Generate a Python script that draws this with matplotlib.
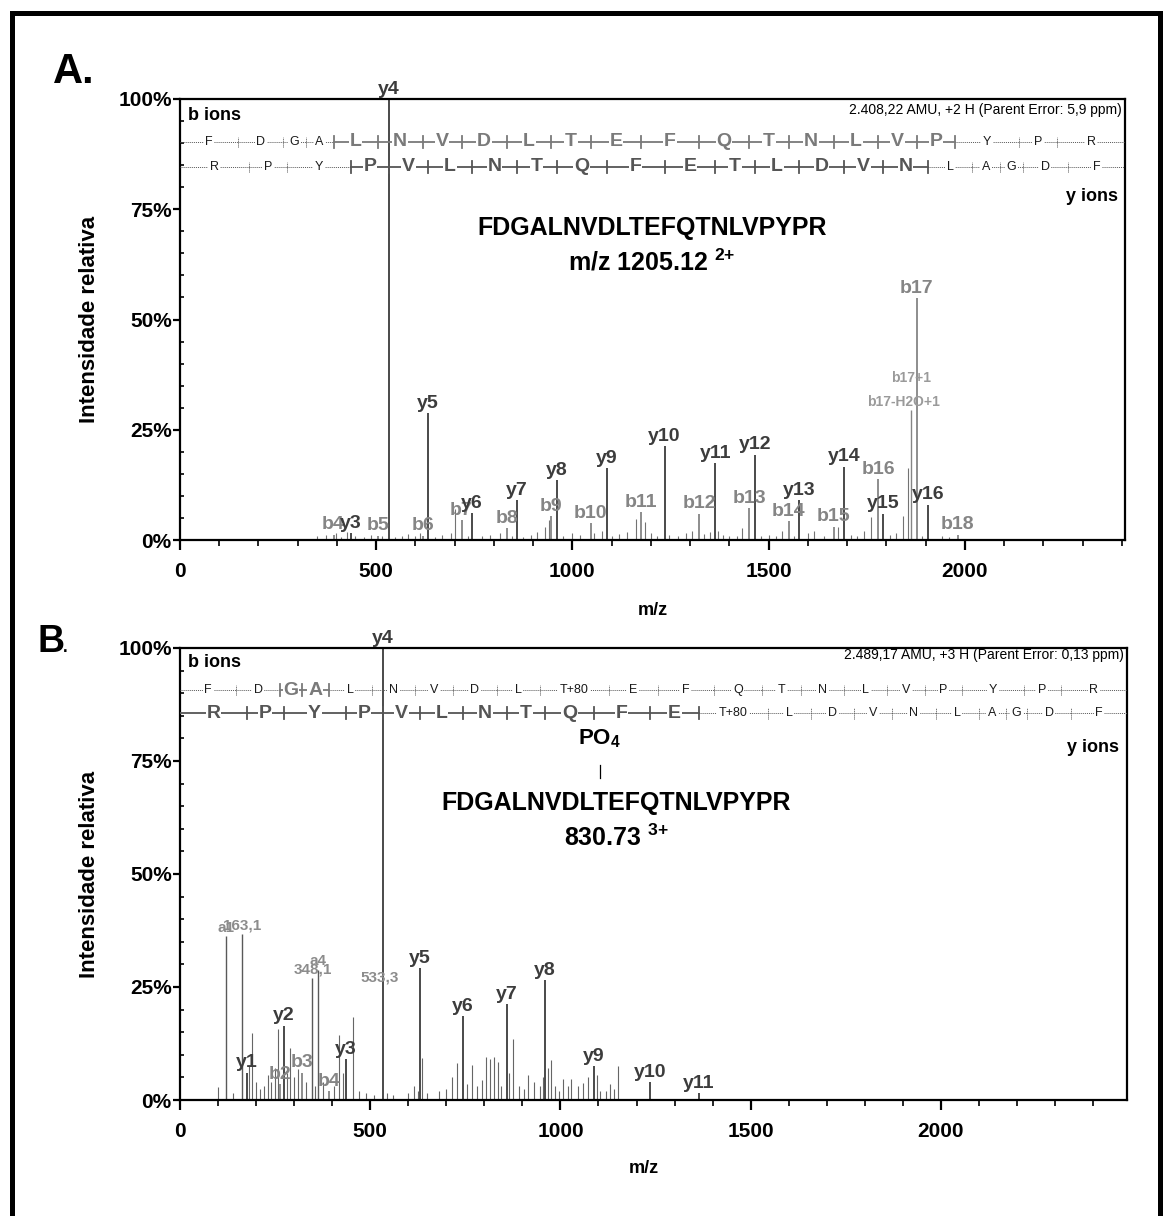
import matplotlib
matplotlib.use('Agg')
import matplotlib.pyplot as plt
from matplotlib import font_manager
from matplotlib.ticker import MultipleLocator, FuncFormatter
from matplotlib.patches import Rectangle

names = {f.name for f in font_manager.fontManager.ttflist}
FONT = 'Liberation Sans Narrow' if 'Liberation Sans Narrow' in names else 'Liberation Sans'
plt.rcParams['font.family'] = [FONT, 'DejaVu Sans']
plt.rcParams['mathtext.fontset'] = 'custom'
plt.rcParams['mathtext.rm'] = FONT
plt.rcParams['mathtext.bf'] = FONT + ':bold'

# peptide sequence
peptide = list("FDGALNVDLTEFQTNLVPYPR")

# ---- panel A (2+ precursor) ----
parent_a = 2408.22
b_sep_a = [148.1, 263.1, 320.1, 391.2, 504.2, 618.3, 717.4, 832.4, 945.5, 1046.5,
           1175.6, 1322.6, 1450.7, 1551.7, 1665.8, 1778.9, 1877.9, 1975.0, 2138.1, 2235.1]
y_sep_a = [175.1, 272.2, 435.2, 532.3, 631.4, 744.4, 858.5, 959.5, 1087.6, 1234.7,
           1363.7, 1464.8, 1577.8, 1692.9, 1791.9, 1906.0, 2019.1, 2090.1, 2147.1, 2262.1]
b_bold_a = "000011111111111111000"
y_bold_a = "000111111111111100000"

lab_mz_a = [435.2, 532.3, 631.4, 744.4, 858.5, 959.5, 1087.6, 1234.7, 1363.7, 1464.8,
            1577.8, 1692.9, 1791.9, 1906.0,
            391.2, 504.2, 618.3, 717.4, 832.4, 945.5, 1046.5, 1175.6, 1322.6, 1450.7,
            1551.7, 1665.8, 1778.9, 1877.9, 1982.0]
lab_int_a = [1.5, 100, 28.8, 6.1, 9.0, 13.6, 16.3, 21.3, 17.4, 19.3,
             9.0, 16.6, 6.0, 8.0,
             1.2, 1.0, 1.0, 4.5, 2.7, 5.4, 3.8, 6.3, 6.0, 7.2,
             4.3, 3.0, 13.8, 54.9, 1.2]
lab_txt_a = ['y3', 'y4', 'y5', 'y6', 'y7', 'y8', 'y9', 'y10', 'y11', 'y12',
             'y13', 'y14', 'y15', 'y16',
             'b4', 'b5', 'b6', 'b7', 'b8', 'b9', 'b10', 'b11', 'b12', 'b13',
             'b14', 'b15', 'b16', 'b17', 'b18']
noise_mz_a = [350, 372, 398, 410, 425, 445, 470, 488, 515, 548, 565, 580, 598, 612, 650,
              668, 690, 701, 735, 770, 790, 815, 845, 875, 895, 910, 930, 940, 975, 1000,
              1020, 1055, 1075, 1100, 1120, 1140, 1161, 1186, 1200, 1215, 1245, 1270, 1290,
              1305, 1335, 1350, 1370, 1385, 1400, 1420, 1433, 1480, 1500, 1520, 1535, 1565,
              1600, 1615, 1640, 1676, 1710, 1725, 1742, 1762, 1810, 1825, 1842, 1855, 1890,
              1943, 1960]
noise_int_a = [0.8, 1.2, 1.5, 0.7, 1.8, 1.0, 0.6, 1.2, 0.9, 0.6, 1.0, 1.3, 0.8, 1.5, 0.7,
               1.2, 1.6, 7.0, 1.0, 0.8, 1.1, 1.5, 1.0, 0.7, 1.2, 1.8, 3.0, 4.5, 1.0, 1.5,
               1.2, 1.5, 2.0, 1.0, 1.3, 1.8, 4.8, 4.0, 1.5, 1.0, 1.2, 0.9, 1.5,
               2.0, 1.3, 1.8, 2.0, 1.2, 0.8, 1.0, 2.7, 1.0, 1.2, 0.8, 2.0, 1.0,
               1.5, 2.0, 1.0, 3.0, 1.2, 1.0, 2.0, 5.2, 1.2, 1.5, 5.4, 16.3, 1.0,
               1.0, 0.6]
extra_mz_a = 1863.0
extra_int_a = 29.5

# ---- panel B (3+ precursor, phospho T) ----
parent_b = 2489.17
b_sep_b = [148.1, 263.1, 320.1, 391.2, 504.2, 618.3, 717.4, 832.4, 945.5, 1126.5,
           1255.5, 1402.6, 1530.7, 1631.7, 1745.8, 1858.9, 1957.9, 2055.0, 2218.0, 2315.1]
y_sep_b = [175.1, 272.2, 435.2, 532.3, 631.4, 744.4, 858.5, 959.5, 1087.6, 1234.7,
           1363.7, 1544.7, 1657.8, 1772.8, 1871.9, 1986.0, 2099.0, 2170.1, 2227.1, 2342.1]
b_bold_b = "001100000000000000000"
y_bold_b = "111111111110000000000"

lab_mz_b = [175.1, 272.2, 435.2, 532.3, 631.4, 744.4, 858.5, 959.5, 1087.6, 1234.7, 1363.7,
            263.1, 320.1, 391.2]
lab_int_b = [6.0, 16.4, 9.0, 100, 29.2, 18.6, 21.2, 26.5, 7.5, 4.0, 1.5,
             3.5, 6.0, 2.0]
lab_txt_b = ['y1', 'y2', 'y3', 'y4', 'y5', 'y6', 'y7', 'y8', 'y9', 'y10', 'y11',
             'b2', 'b3', 'b4']
mass_mz_b = [121.1, 163.1, 348.1, 363.2]
mass_int_b = [36.3, 36.7, 27.0, 28.8]
mass_txt_b = ['a1', '163,1', '348,1', 'a4']
noise_mz_b = [100, 140, 182, 190, 200, 210, 220, 230, 240, 250, 257, 282, 290, 300, 310,
              330, 355, 375, 405, 418, 428, 455, 470, 490, 510, 545, 560, 600, 615, 625,
              635, 650, 680, 700, 715, 729, 755, 768, 780, 795, 805, 815, 825, 835, 845,
              865, 874, 890, 905, 916, 930, 945, 955, 966, 974, 985, 995, 1008, 1020, 1029,
              1045, 1060, 1073, 1095, 1105, 1121, 1129, 1140, 1152]
noise_int_b = [2.8, 1.5, 7.5, 14.8, 4.0, 2.5, 3.0, 5.5, 4.0, 7.0, 15.7, 6.0, 11.5, 5.0, 6.8,
               4.0, 3.0, 4.0, 3.0, 14.4, 6.0, 18.4, 2.0, 1.5, 1.2, 1.5, 1.2, 1.5, 3.0, 2.0,
               9.3, 1.5, 2.0, 2.5, 5.0, 8.2, 3.5, 7.7, 3.0, 4.5, 9.5, 9.0, 9.5, 8.5, 3.0,
               6.0, 13.5, 3.0, 2.5, 5.5, 4.0, 3.0, 5.0, 7.0, 8.8, 3.0, 2.0, 4.6, 3.0, 4.7,
               3.0, 3.8, 5.0, 5.5, 2.0, 2.0, 3.5, 2.5, 7.5]

Y_COL = '#3c3c3c'
B_COL = '#858585'


def pct(v, _):
    return f'{int(v)}%'


def style_axes(ax, xmax):
    ax.set_xlim(0, xmax)
    ax.set_ylim(0, 100)
    for s in ax.spines.values():
        s.set_linewidth(1.6)
        s.set_color('black')
    ax.xaxis.set_major_locator(MultipleLocator(500))
    ax.xaxis.set_minor_locator(MultipleLocator(100))
    ax.yaxis.set_major_locator(MultipleLocator(25))
    ax.yaxis.set_minor_locator(MultipleLocator(5))
    ax.yaxis.set_major_formatter(FuncFormatter(pct))
    ax.tick_params(axis='x', which='major', direction='out', length=7, width=1.6, pad=9,
                   labelsize=15)
    ax.tick_params(axis='x', which='minor', direction='out', length=4, width=1.2)
    ax.tick_params(axis='y', which='major', direction='out', length=5, width=1.6, pad=1,
                   labelsize=15)
    ax.tick_params(axis='y', which='minor', direction='in', length=3, width=1.2)
    for lbl in ax.get_xticklabels() + ax.get_yticklabels():
        lbl.set_fontweight('bold')
    ax.set_xlabel('m/z', fontsize=13, fontweight='bold')
    ax.set_ylabel('Intensidade relativa', fontsize=16, fontweight='bold')


def draw_row(ax, seps, letters, bold, yfrac, xmax, bold_color):
    tr = ax.get_xaxis_transform()
    edges = [0] + list(seps) + [xmax]
    for i, letter in enumerate(letters):
        x0, x1 = edges[i], edges[i + 1]
        xm = (x0 + x1) / 2
        if bold[i] == '1':
            ax.plot([x0, x1], [yfrac, yfrac], color=bold_color, lw=1.3, transform=tr, zorder=3)
            ax.text(xm, yfrac, letter, transform=tr, ha='center', va='center', fontsize=14,
                    fontweight='bold', color=bold_color, zorder=5,
                    bbox=dict(fc='white', ec='none', pad=0.5))
        else:
            ax.plot([x0, x1], [yfrac, yfrac], color='0.35', lw=0.7, ls=(0, (1, 1)),
                    transform=tr, zorder=3)
            ax.text(xm, yfrac, letter, transform=tr, ha='center', va='center', fontsize=9,
                    color='0.1', zorder=5, bbox=dict(fc='white', ec='none', pad=1.2))
    for i, s in enumerate(seps):
        strong = bold[i] == '1' or bold[i + 1] == '1'
        if strong:
            ax.plot([s, s], [yfrac - 0.014, yfrac + 0.014], color=bold_color, lw=1.3,
                    transform=tr, zorder=4)
        else:
            ax.plot([s, s], [yfrac - 0.012, yfrac + 0.012], color='0.3', lw=0.7,
                    ls=(0, (1, 1)), transform=tr, zorder=4)


def draw_peaks(ax, mz, inten, txt, fs=14):
    for m, v, t in zip(mz, inten, txt):
        col = Y_COL if t.startswith('y') else B_COL
        ax.vlines(m, 0, v, colors=col, lw=1.3, zorder=2)
        ax.annotate(t, (m, v), xytext=(0, 1), textcoords='offset points', ha='center',
                    va='bottom', fontsize=fs, fontweight='bold', color=col,
                    annotation_clip=False, zorder=6)


fig = plt.figure(figsize=(11.65, 12.16), dpi=100)

# ---------------- panel A ----------------
axA = fig.add_axes([180 / 1165, 1 - 540 / 1216, 945 / 1165, 441 / 1216])
style_axes(axA, parent_a)
axA.vlines(noise_mz_a, 0, noise_int_a, colors='0.45', lw=0.8, zorder=1)
axA.vlines(extra_mz_a, 0, extra_int_a, colors=B_COL, lw=1.0, zorder=1)
axA.text(extra_mz_a, 36.7, 'b17+1', ha='center', va='center', fontsize=10,
         fontweight='bold', color='#9a9a9a')
axA.text(extra_mz_a - 20, 31.4, 'b17-H2O+1', ha='center', va='center', fontsize=10,
         fontweight='bold', color='#9a9a9a')
draw_peaks(axA, lab_mz_a[14:], lab_int_a[14:], lab_txt_a[14:])
draw_peaks(axA, lab_mz_a[:14], lab_int_a[:14], lab_txt_a[:14])
draw_row(axA, b_sep_a, peptide, b_bold_a, 0.9025, parent_a, '#7a7a7a')
draw_row(axA, y_sep_a, peptide[::-1], y_bold_a, 0.846, parent_a, '#555555')
axA.text(0.0085, 0.962, 'b ions', transform=axA.transAxes, ha='left', va='center',
         fontsize=13, fontweight='bold')
axA.text(0.993, 0.78, 'y ions', transform=axA.transAxes, ha='right', va='center',
         fontsize=13, fontweight='bold')
axA.text(0.997, 0.976, '2.408,22 AMU, +2 H (Parent Error: 5,9 ppm)', transform=axA.transAxes,
         ha='right', va='center', fontsize=10)
axA.text(0.4995, 0.707, 'FDGALNVDLTEFQTNLVPYPR', transform=axA.transAxes, ha='center',
         va='center', fontsize=18, fontweight='bold')
axA.text(0.4995, 0.63, r'm/z 1205.12 $^{\mathbf{2{+}}}$', transform=axA.transAxes,
         ha='center', va='center', fontsize=18, fontweight='bold')
axA.yaxis.set_label_coords(-80 / 945, 0.5)
axA.xaxis.set_label_coords(0.5, -62 / 441)

# ---------------- panel B ----------------
axB = fig.add_axes([180 / 1165, 1 - 1100 / 1216, 947 / 1165, 452 / 1216])
style_axes(axB, parent_b)
axB.vlines(noise_mz_b, 0, noise_int_b, colors='0.4', lw=0.8, zorder=1)
for m, v, t in zip(mass_mz_b, mass_int_b, mass_txt_b):
    axB.vlines(m, 0, v, colors='0.35', lw=1.0, zorder=2)
    axB.annotate(t, (m, v), xytext=(0, 1), textcoords='offset points', ha='center',
                 va='bottom', fontsize=11, fontweight='bold', color='#8c8c8c')
axB.text(526, 25.5, '533,3', ha='center', va='bottom', fontsize=11, fontweight='bold',
         color='#8c8c8c')
draw_peaks(axB, lab_mz_b[11:], lab_int_b[11:], lab_txt_b[11:])
draw_peaks(axB, lab_mz_b[:11], lab_int_b[:11], lab_txt_b[:11])
pep_b = list(peptide)
pep_b[9] = 'T+80'
pep_yb = peptide[::-1]
pep_yb[11] = 'T+80'
draw_row(axB, b_sep_b, pep_b, b_bold_b, 0.907, parent_b, '#7a7a7a')
draw_row(axB, y_sep_b, pep_yb, y_bold_b, 0.856, parent_b, '#555555')
axB.text(0.0085, 0.969, 'b ions', transform=axB.transAxes, ha='left', va='center',
         fontsize=13, fontweight='bold')
axB.text(0.992, 0.779, 'y ions', transform=axB.transAxes, ha='right', va='center',
         fontsize=13, fontweight='bold')
axB.text(0.997, 0.985, '2.489,17 AMU, +3 H (Parent Error: 0,13 ppm)', transform=axB.transAxes,
         ha='right', va='center', fontsize=10)
axB.text(0.443, 0.80, r'PO$_{\mathbf{4}}$', transform=axB.transAxes, ha='center',
         va='center', fontsize=16, fontweight='bold')
axB.plot([0.444, 0.444], [0.712, 0.741], transform=axB.transAxes, color='black', lw=0.9)
axB.text(0.461, 0.657, 'FDGALNVDLTEFQTNLVPYPR', transform=axB.transAxes, ha='center',
         va='center', fontsize=18, fontweight='bold')
axB.text(0.461, 0.58, r'830.73 $^{\mathbf{3{+}}}$', transform=axB.transAxes,
         ha='center', va='center', fontsize=18, fontweight='bold')
axB.yaxis.set_label_coords(-80 / 947, 0.5)
axB.xaxis.set_label_coords(0.49, -60 / 452)

# panel letters and outer frame
fig.text(53 / 1165, 1 - 83 / 1216, 'A.', fontsize=30, fontweight='bold', ha='left',
         va='baseline')
fig.text(38 / 1165, 1 - 652 / 1216, 'B', fontsize=27, fontweight='bold', ha='left',
         va='baseline')
fig.text(63 / 1165, 1 - 652 / 1216, '.', fontsize=12, fontweight='bold', ha='left',
         va='baseline')
fig.add_artist(Rectangle((12 / 1165, -0.05), (1160 - 12) / 1165, 1.05 - 13 / 1216,
                         transform=fig.transFigure, fill=False, ec='black', lw=3.6))

fig.savefig('out.png', dpi=100)
